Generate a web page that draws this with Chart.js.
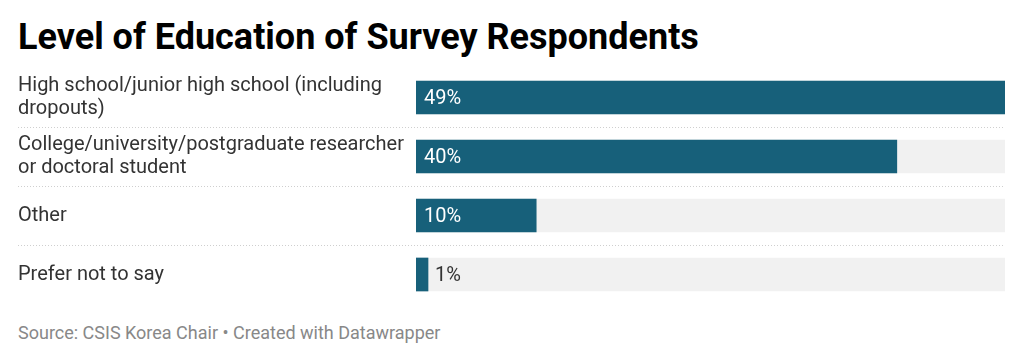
<!DOCTYPE html>
<html lang="en">
<head>
  <meta charset="UTF-8">
  <title>Level of Education of Survey Respondents</title>
  <script src="https://cdn.jsdelivr.net/npm/chart.js"></script>
  <style>
    body {
      margin: 0;
      width: 1024px;
      height: 362px;
      background: #fff;
      font-family: Roboto, sans-serif;
      position: relative;
      overflow: hidden;
    }
    h1 {
      position: absolute;
      left: 18px;
      top: 19px;
      margin: 0;
      font-size: 36px;
      line-height: 36px;
      font-weight: 700;
      color: #000;
      white-space: nowrap;
    }
    #wrap {
      position: absolute;
      left: 0;
      top: 68px;
      width: 1024px;
      height: 236px;
    }
    .source {
      position: absolute;
      left: 18px;
      top: 323px;
      font-size: 18px;
      line-height: 20px;
      color: #888;
      white-space: nowrap;
    }
  </style>
</head>
<body>
  <h1>Level of Education of Survey Respondents</h1>
  <div id="wrap"><canvas id="eduChart" width="1024" height="236"></canvas></div>
  <div class="source">Source: CSIS Korea Chair • Created with Datawrapper</div>

  <script>
    const categories = [
      ['High school/junior high school (including', 'dropouts)'],
      ['College/university/postgraduate researcher', 'or doctoral student'],
      ['Other'],
      ['Prefer not to say']
    ];
    const shares = [49, 40, 10, 1];

    const maxShare = Math.max(...shares);
    const track = shares.map(() => maxShare);

    // dotted lines between the rows, running under the labels too
    const separators = {
      id: 'separators',
      beforeDatasetsDraw(chart) {
        const ctx = chart.ctx;
        const y = chart.scales.y;
        ctx.save();
        ctx.strokeStyle = '#cfcfcf';
        ctx.lineWidth = 1;
        ctx.setLineDash([1, 2]);
        for (let i = 1; i < categories.length; i++) {
          const py = Math.round((y.getPixelForValue(i - 1) + y.getPixelForValue(i)) / 2) + 0.5;
          ctx.beginPath();
          ctx.moveTo(18, py);
          ctx.lineTo(chart.chartArea.right, py);
          ctx.stroke();
        }
        ctx.restore();
      }
    };

    const valueLabels = {
      id: 'valueLabels',
      afterDatasetsDraw(chart) {
        const ctx = chart.ctx;
        const meta = chart.getDatasetMeta(0);
        ctx.save();
        ctx.font = '20px Roboto';
        ctx.textBaseline = 'middle';
        ctx.textAlign = 'left';
        meta.data.forEach((bar, i) => {
          const text = shares[i] + '%';
          const w = ctx.measureText(text).width;
          const barW = bar.x - bar.base;
          if (barW > w + 16) {
            ctx.fillStyle = '#ffffff';
            ctx.fillText(text, bar.base + 8, bar.y + 1);
          } else {
            ctx.fillStyle = '#333333';
            ctx.fillText(text, bar.x + 7, bar.y + 1);
          }
        });
        ctx.restore();
      }
    };

    const ctx = document.getElementById('eduChart').getContext('2d');
    new Chart(ctx, {
      type: 'bar',
      data: {
        labels: categories,
        datasets: [
          {
            label: 'Share',
            data: shares,
            backgroundColor: '#17607a',
            barThickness: 33,
            grouped: false,
            order: 1
          },
          {
            label: 'Track',
            data: track,
            backgroundColor: '#f1f1f1',
            barThickness: 33,
            grouped: false,
            order: 2
          }
        ]
      },
      options: {
        indexAxis: 'y',
        responsive: false,
        animation: false,
        layout: {
          padding: { left: 18, right: 19, top: 0, bottom: 0 }
        },
        plugins: {
          legend: { display: false },
          tooltip: { enabled: false }
        },
        scales: {
          x: {
            display: false,
            min: 0,
            max: maxShare
          },
          y: {
            grid: { display: false },
            border: { display: false },
            afterFit(scale) {
              scale.width = 398;
              scale.paddingTop = 0;
              scale.paddingBottom = 0;
            },
            ticks: {
              crossAlign: 'far',
              padding: 0,
              color: '#333',
              font: { family: 'Roboto', size: 20, lineHeight: 1.15 }
            }
          }
        }
      },
      plugins: [separators, valueLabels]
    });
  </script>
</body>
</html>
